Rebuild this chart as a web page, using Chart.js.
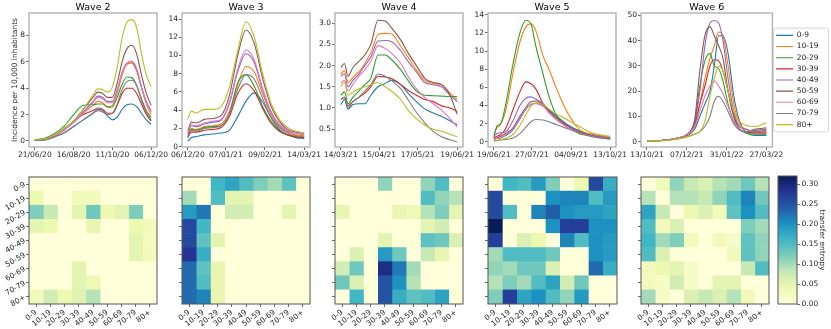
<!DOCTYPE html>
<html>
<head>
<meta charset="utf-8">
<script src="https://cdn.jsdelivr.net/npm/chart.js@4.4.1/dist/chart.umd.min.js"></script>
<style>
  body { margin: 0; background: #fff; }
  #wrap { position: relative; width: 831px; height: 329px; overflow: hidden; }
  canvas { position: absolute; }
</style>
</head>
<body>
<div id="wrap"></div>
<script>
const ageGroups = ['0-9', '10-19', '20-29', '30-39', '40-49', '50-59', '60-69', '70-79', '80+'];
const lineColors = ['#1f77b4', '#ff7f0e', '#2ca02c', '#d62728', '#9467bd', '#8c564b', '#e377c2', '#7f7f7f', '#bcbd22'];

// wave 2, days since 21/06/20, one row per age group
const wave2Days = [0, 14, 28, 42, 56, 70, 84, 91, 98, 105, 112, 119, 126, 133, 140, 147, 154, 161, 168];
const wave2Series = [
  [0.05, 0.08, 0.3, 0.6, 1.1, 1.6, 2.1, 2.4, 2.3, 1.9, 1.6, 1.8, 2.4, 2.75, 2.8, 2.6, 2.1, 1.6, 1.25],
  [0.1, 0.15, 0.4, 0.9, 1.5, 2.1, 2.7, 3.0, 2.9, 2.6, 2.7, 3.6, 5.0, 5.8, 5.9, 5.3, 4.0, 2.8, 2.0],
  [0.1, 0.2, 0.55, 1.1, 2.0, 2.7, 2.75, 2.8, 2.8, 2.55, 2.6, 3.3, 4.3, 4.85, 4.8, 4.2, 3.1, 2.2, 1.6],
  [0.05, 0.1, 0.4, 0.8, 1.5, 2.0, 2.3, 2.5, 2.4, 2.1, 2.1, 2.7, 3.6, 4.0, 4.0, 3.6, 2.8, 2.0, 1.5],
  [0.08, 0.12, 0.4, 0.85, 1.4, 2.2, 3.0, 3.4, 3.3, 3.0, 3.0, 3.9, 5.2, 5.9, 6.0, 5.4, 4.1, 3.0, 2.3],
  [0.08, 0.12, 0.4, 0.9, 1.5, 2.4, 3.3, 3.7, 3.6, 3.3, 3.3, 4.4, 6.0, 7.0, 7.25, 6.6, 5.0, 3.6, 2.7],
  [0.08, 0.12, 0.4, 0.85, 1.4, 2.1, 2.9, 3.3, 3.2, 2.9, 2.9, 3.8, 5.2, 5.9, 6.05, 5.5, 4.1, 2.9, 2.2],
  [0.03, 0.06, 0.3, 0.6, 1.1, 1.6, 2.1, 2.3, 2.2, 2.0, 2.1, 2.8, 3.9, 4.5, 4.6, 4.2, 3.2, 2.3, 1.8],
  [0.1, 0.15, 0.45, 0.95, 1.5, 2.4, 3.5, 3.95, 3.9, 3.7, 4.1, 5.6, 7.8, 9.0, 9.2, 8.6, 6.6, 5.0, 4.1]
];
const wave2XTicks = [0, 56, 112, 168];
const wave2XLabels = ['21/06/20', '16/08/20', '11/10/20', '06/12/20'];
const wave2YTicks = [0, 2, 4, 6, 8];
const wave2YLabels = ['0', '2', '4', '6', '8'];

// wave 3, days since 06/12/20
const wave3Days = [0, 3, 7, 14, 21, 28, 35, 42, 49, 56, 63, 70, 77, 84, 91, 98];
const wave3Series = [
  [0.6, 1.0, 1.1, 1.3, 1.4, 1.5, 1.8, 3.3, 5.0, 5.9, 4.9, 3.2, 1.9, 1.3, 1.0, 0.9],
  [1.2, 2.0, 1.9, 2.2, 2.3, 2.5, 3.9, 6.8, 8.8, 8.2, 5.8, 3.6, 2.2, 1.6, 1.3, 1.2],
  [1.1, 1.9, 1.8, 2.1, 2.2, 2.3, 3.6, 7.0, 7.9, 6.6, 4.4, 2.8, 1.8, 1.3, 1.1, 1.0],
  [1.0, 1.6, 1.6, 1.8, 1.9, 2.1, 3.3, 5.8, 6.9, 6.1, 4.2, 2.6, 1.7, 1.3, 1.1, 1.0],
  [1.4, 2.3, 2.2, 2.5, 2.7, 2.9, 4.7, 8.2, 10.2, 9.2, 6.2, 3.8, 2.4, 1.7, 1.5, 1.3],
  [1.7, 2.7, 2.6, 3.0, 3.1, 3.4, 5.6, 10.0, 12.8, 11.3, 7.5, 4.5, 2.8, 1.9, 1.6, 1.5],
  [1.5, 2.4, 2.3, 2.6, 2.8, 3.0, 4.9, 8.5, 10.6, 9.5, 6.4, 3.9, 2.5, 1.8, 1.5, 1.4],
  [1.0, 1.8, 1.7, 2.0, 2.1, 2.3, 3.6, 6.3, 7.9, 7.4, 5.3, 3.3, 2.1, 1.5, 1.2, 1.1],
  [3.0, 3.9, 3.7, 4.1, 4.1, 4.4, 6.5, 10.5, 13.7, 12.0, 8.0, 4.8, 3.0, 2.1, 1.7, 1.5]
];
const wave3XTicks = [0, 32, 65, 98];
const wave3XLabels = ['06/12/20', '07/01/21', '09/02/21', '14/03/21'];
const wave3YTicks = [0, 2, 4, 6, 8, 10, 12, 14];
const wave3YLabels = ['0', '2', '4', '6', '8', '10', '12', '14'];

// wave 4, days since 14/03/21
const wave4Days = [0, 3, 6, 10, 15, 20, 25, 31, 37, 42, 50, 56, 63, 70, 77, 84, 91, 97];
const wave4Series = [
  [1.08, 1.2, 0.97, 1.08, 1.1, 1.1, 1.3, 1.5, 1.58, 1.65, 1.55, 1.35, 1.15, 0.98, 0.88, 0.8, 0.7, 0.6],
  [1.8, 1.88, 1.6, 1.72, 1.85, 2.05, 2.3, 2.73, 2.76, 2.75, 2.45, 2.2, 1.9, 1.65, 1.58, 1.55, 1.35, 1.2],
  [1.3, 1.38, 1.1, 1.25, 1.4, 1.55, 1.7, 2.25, 2.25, 2.15, 1.9, 1.65, 1.4, 1.3, 1.29, 1.28, 1.27, 1.27],
  [1.2, 1.25, 1.05, 1.15, 1.25, 1.35, 1.5, 1.75, 1.73, 1.7, 1.55, 1.42, 1.3, 1.2, 1.15, 1.05, 1.0, 0.92],
  [1.75, 1.8, 1.5, 1.65, 1.8, 2.0, 2.2, 2.58, 2.59, 2.57, 2.35, 2.1, 1.85, 1.6, 1.55, 1.5, 1.3, 1.15],
  [1.95, 2.05, 1.75, 1.95, 2.1, 2.25, 2.5, 3.07, 3.05, 2.9, 2.6, 2.3, 2.0, 1.7, 1.6, 1.55, 1.3, 0.85],
  [1.58, 1.65, 1.4, 1.55, 1.75, 1.9, 2.1, 2.47, 2.4, 2.3, 2.05, 1.75, 1.45, 1.25, 1.1, 0.95, 0.75, 0.55],
  [1.2, 1.25, 1.0, 1.15, 1.25, 1.4, 1.55, 1.8, 1.75, 1.65, 1.45, 1.2, 0.9, 0.65, 0.45, 0.32, 0.25, 0.2],
  [1.5, 1.6, 1.3, 1.38, 1.45, 1.5, 1.55, 1.6, 1.5, 1.4, 1.2, 0.95, 0.75, 0.6, 0.5, 0.45, 0.38, 0.32]
];
const wave4XTicks = [0, 32, 64, 97];
const wave4XLabels = ['14/03/21', '15/04/21', '17/05/21', '19/06/21'];
const wave4YTicks = [0.5, 1.0, 1.5, 2.0, 2.5, 3.0];
const wave4YLabels = ['0.5', '1.0', '1.5', '2.0', '2.5', '3.0'];

// wave 5, days since 19/06/21
const wave5Days = [0, 3, 7, 12, 19, 26, 32, 37, 42, 49, 55, 62, 72, 85, 100, 116];
const wave5Series = [
  [0.3, 0.35, 0.45, 0.7, 1.3, 2.5, 3.6, 4.1, 4.25, 4.0, 3.5, 2.9, 2.0, 1.2, 0.6, 0.3],
  [0.8, 1.5, 2.0, 3.5, 7.5, 11.0, 12.7, 13.0, 12.2, 9.5, 8.0, 6.0, 3.5, 1.4, 0.8, 0.5],
  [0.5, 1.7, 2.0, 4.2, 8.5, 12.0, 13.4, 13.0, 10.5, 7.5, 5.0, 3.0, 1.8, 0.9, 0.6, 0.35],
  [0.4, 0.6, 0.8, 1.5, 3.5, 5.5, 6.6, 6.4, 5.8, 4.2, 3.3, 2.5, 1.7, 1.0, 0.6, 0.4],
  [0.6, 0.9, 1.0, 1.1, 2.3, 4.0, 4.8, 4.95, 4.7, 4.2, 3.5, 2.7, 1.8, 1.1, 0.7, 0.4],
  [0.3, 0.4, 0.6, 0.9, 1.5, 2.8, 3.8, 4.4, 4.5, 4.1, 3.4, 2.7, 1.9, 1.1, 0.6, 0.35],
  [0.3, 0.35, 0.5, 0.8, 1.4, 2.6, 3.6, 4.1, 4.2, 3.9, 3.2, 2.5, 1.7, 1.0, 0.55, 0.3],
  [0.1, 0.12, 0.2, 0.25, 0.4, 0.9, 1.6, 2.2, 2.45, 2.4, 2.2, 1.9, 1.5, 1.0, 0.5, 0.3],
  [0.1, 0.15, 0.25, 0.4, 0.8, 1.8, 3.0, 3.9, 4.3, 4.1, 3.6, 3.1, 2.5, 1.7, 0.9, 0.6]
];
const wave5XTicks = [0, 38, 77, 116];
const wave5XLabels = ['19/06/21', '27/07/21', '04/09/21', '13/10/21'];
const wave5YTicks = [0, 2, 4, 6, 8, 10, 12, 14];
const wave5YLabels = ['0', '2', '4', '6', '8', '10', '12', '14'];

// wave 6, days since 13/10/21
const wave6Days = [0, 20, 40, 56, 66, 73, 80, 87, 93, 99, 105, 112, 120, 128, 136, 150, 165];
const wave6Series = [
  [0.3, 0.5, 1.2, 2.5, 5, 10, 15, 20, 30, 42, 42, 35, 18, 8, 4, 2.5, 2.5],
  [0.3, 0.5, 1.3, 2.8, 6, 15, 25, 33, 38, 43.5, 42, 30, 15, 7, 5, 4, 4],
  [0.3, 0.5, 1.3, 3, 8, 22, 32, 35, 30, 29, 24, 15, 8, 5, 3.5, 3, 3],
  [0.3, 0.5, 1.3, 3, 7, 15, 22, 30, 32.5, 32, 28, 20, 10, 5, 4, 3.5, 3.5],
  [0.3, 0.5, 1.3, 3, 8, 20, 38, 47, 48, 47, 40, 25, 12, 6, 5, 4, 4.5],
  [0.3, 0.5, 1.3, 3, 9, 28, 42, 45.5, 42, 38, 33, 20, 10, 5, 4, 5, 5.5],
  [0.3, 0.5, 1.3, 3, 6, 12, 18, 22, 24, 22, 19, 14, 8, 5, 4, 4.5, 5],
  [0.3, 0.4, 1.0, 2, 3, 4, 6, 10, 16, 18, 16, 12, 7, 4.5, 4, 4.5, 5],
  [0.3, 0.4, 1.0, 2, 3, 4, 8, 18, 25, 30, 28, 20, 12, 8, 6.5, 6, 7.5]
];
const wave6XTicks = [0, 55, 110, 165];
const wave6XLabels = ['13/10/21', '07/12/21', '31/01/22', '27/03/22'];
const wave6YTicks = [0, 10, 20, 30, 40, 50];
const wave6YLabels = ['0', '10', '20', '30', '40', '50'];

// transfer entropy matrices, rows and columns follow ageGroups
const te2 = [
  [0, 0, 0, 0, 0, 0, 0, 0, 0],
  [0.04, 0, 0, 0.03, 0.03, 0, 0, 0, 0],
  [0.12, 0.08, 0, 0.05, 0.13, 0.04, 0.05, 0.12, 0],
  [0.05, 0.04, 0, 0, 0.045, 0, 0, 0.04, 0.03],
  [0, 0, 0, 0, 0, 0, 0, 0.05, 0.03],
  [0, 0, 0, 0, 0, 0, 0, 0.05, 0.03],
  [0, 0, 0, 0.05, 0, 0, 0, 0, 0],
  [0, 0, 0, 0.05, 0.035, 0, 0, 0, 0],
  [0.03, 0.07, 0.04, 0.055, 0.09, 0, 0, 0, 0]
];
const te3 = [
  [0, 0, 0.16, 0.18, 0.15, 0.12, 0.1, 0.14, 0],
  [0.1, 0, 0.15, 0.05, 0.05, 0, 0, 0, 0],
  [0.19, 0.22, 0, 0.07, 0.07, 0, 0, 0.05, 0],
  [0.26, 0.16, 0, 0, 0, 0, 0, 0, 0],
  [0.26, 0.14, 0.05, 0, 0, 0, 0, 0, 0],
  [0.28, 0.17, 0, 0, 0, 0, 0, 0, 0],
  [0.23, 0.14, 0.045, 0, 0, 0, 0, 0, 0],
  [0.23, 0.15, 0.045, 0, 0, 0, 0, 0, 0],
  [0.23, 0.21, 0.045, 0, 0, 0, 0, 0, 0]
];
const te4 = [
  [0, 0, 0, 0.11, 0, 0, 0.11, 0.15, 0],
  [0, 0, 0, 0, 0, 0, 0.15, 0.11, 0.09],
  [0.045, 0, 0, 0, 0.045, 0.035, 0.09, 0.12, 0.05],
  [0, 0, 0, 0, 0, 0, 0.05, 0.07, 0],
  [0, 0, 0, 0.05, 0, 0, 0.14, 0.13, 0.06],
  [0, 0.06, 0, 0.19, 0.13, 0, 0.08, 0.045, 0],
  [0.07, 0.13, 0, 0.29, 0.22, 0.1, 0, 0, 0],
  [0.13, 0.06, 0, 0.25, 0.2, 0.09, 0, 0, 0],
  [0, 0.16, 0, 0.25, 0.17, 0.14, 0.15, 0.18, 0]
];
const te5 = [
  [0, 0.16, 0.15, 0.19, 0.12, 0, 0.04, 0.26, 0.17],
  [0.26, 0, 0, 0, 0.2, 0.21, 0.21, 0.15, 0.19],
  [0.26, 0.15, 0, 0.21, 0.24, 0.2, 0.19, 0.19, 0.18],
  [0.32, 0, 0, 0, 0.2, 0.27, 0.27, 0.2, 0.2],
  [0.27, 0, 0.06, 0.04, 0, 0.21, 0.15, 0.2, 0.19],
  [0.1, 0.15, 0.15, 0.15, 0.13, 0, 0, 0.2, 0.19],
  [0.11, 0.1, 0.13, 0.13, 0.06, 0, 0, 0.23, 0.17],
  [0.09, 0.12, 0.1, 0.15, 0.18, 0.07, 0.13, 0, 0],
  [0.12, 0.27, 0.18, 0.2, 0.15, 0.11, 0.19, 0, 0]
];
const te6 = [
  [0, 0.03, 0.11, 0.08, 0.06, 0.09, 0.1, 0.13, 0.09],
  [0.09, 0, 0.09, 0.09, 0.08, 0.11, 0.15, 0.21, 0.13],
  [0.18, 0.08, 0, 0.04, 0.06, 0.03, 0.14, 0.2, 0.15],
  [0.15, 0.03, 0.06, 0, 0, 0, 0, 0.12, 0.1],
  [0.16, 0.1, 0.12, 0.03, 0, 0.03, 0.02, 0.14, 0.11],
  [0.15, 0.06, 0, 0, 0, 0, 0.03, 0.14, 0.11],
  [0.03, 0.04, 0.05, 0.02, 0, 0, 0, 0.08, 0.15],
  [0.03, 0.02, 0.07, 0.02, 0, 0.05, 0.05, 0, 0],
  [0.1, 0.02, 0, 0.06, 0.08, 0.06, 0.09, 0.03, 0]
];
const teMax = 0.32;
const cbTicks = [0, 0.05, 0.1, 0.15, 0.2, 0.25, 0.3];

Chart.defaults.font.family = "'DejaVu Sans', sans-serif";
Chart.defaults.font.size = 7.5;
Chart.defaults.color = '#262626';

const ylgnbuStops = ['#ffffd9', '#edf8b1', '#c7e9b4', '#7fcdbb', '#41b6c4', '#1d91c0', '#225ea8', '#253494', '#081d58'];
function hexRgb(h) {
  const n = parseInt(h.slice(1), 16);
  return [n >> 16, (n >> 8) & 255, n & 255];
}
function ylgnbu(t) {
  const s = Math.max(0, Math.min(1, t)) * (ylgnbuStops.length - 1);
  const i = Math.min(ylgnbuStops.length - 2, Math.floor(s));
  const f = s - i;
  const a = hexRgb(ylgnbuStops[i]), b = hexRgb(ylgnbuStops[i + 1]);
  return 'rgb(' + a.map((v, k) => Math.round(v + (b[k] - v) * f)).join(',') + ')';
}

function addCanvas(left, top, w, h) {
  const c = document.createElement('canvas');
  c.width = w; c.height = h;
  c.style.left = left + 'px'; c.style.top = top + 'px';
  c.style.width = w + 'px'; c.style.height = h + 'px';
  document.getElementById('wrap').appendChild(c);
  return c.getContext('2d');
}

// box round the plot area (the matplotlib spines)
const framePlugin = {
  id: 'frame',
  afterDatasetsDraw(chart, args, opts) {
    const {ctx, chartArea: a} = chart;
    ctx.save();
    ctx.strokeStyle = opts.color || '#888';
    ctx.lineWidth = opts.width || 1;
    ctx.strokeRect(a.left, a.top, a.right - a.left, a.bottom - a.top);
    ctx.restore();
  }
};

const LEG_PAD = 3.66;
const LEG_BOX = 17;
// draw a box round the legend
const legendBoxPlugin = {
  id: 'legendBox',
  afterDraw(chart) {
    const lg = chart.legend;
    if (!lg || !lg.options.display) return;
    const ctx = chart.ctx;
    const colH = lg.columnSizes[0].height;
    const y0 = (lg.top + LEG_PAD + lg.bottom - colH) / 2;
    ctx.save();
    ctx.strokeStyle = '#d4d4d4';
    ctx.lineWidth = 1;
    ctx.beginPath();
    ctx.roundRect(lg.left + LEG_PAD - 2.5, y0 - 3.5, 55, colH - LEG_PAD + 7, 2);
    ctx.stroke();
    ctx.restore();
  }
};

function legendWidth() {
  const c = document.createElement('canvas').getContext('2d');
  c.font = "normal 7.5px 'DejaVu Sans', sans-serif";
  const tw = Math.max(...ageGroups.map(g => c.measureText(g).width));
  return LEG_PAD + LEG_BOX + 7.5 / 2 + tw + 10;
}

function fixed(prop, size) {
  return s => {
    s[prop] = size;
    s.paddingLeft = 0; s.paddingRight = 0; s.paddingTop = 0; s.paddingBottom = 0;
  };
}

function lineChart(cfg) {
  const plotTop = 13, plotH = 134, padB = 22;
  const padR = cfg.legend ? 831 - (cfg.x + cfg.w) : 16;
  const legW = cfg.legend ? legendWidth() : 0;
  const ctx = addCanvas(cfg.x - cfg.padL, 0, cfg.padL + cfg.w + padR, plotTop + plotH + padB);
  const span = cfg.days[cfg.days.length - 1];
  return new Chart(ctx, {
    type: 'line',
    data: {
      datasets: cfg.series.map((s, i) => ({
        label: ageGroups[i],
        data: cfg.days.map((d, j) => ({x: d, y: s[j]})),
        borderColor: lineColors[i],
        backgroundColor: lineColors[i],
        borderWidth: 1.1,
        pointRadius: 0,
        cubicInterpolationMode: 'monotone',
        fill: false,
        order: ageGroups.length - i
      }))
    },
    options: {
      responsive: false,
      animation: false,
      events: [],
      layout: {padding: {left: 0, top: 0, bottom: 0, right: padR - legW}},
      plugins: {
        tooltip: {enabled: false},
        title: {
          display: true, text: cfg.title, fullSize: false, color: '#000',
          font: {size: 9.5, weight: 'normal'}, padding: {top: 1.6, bottom: 0}
        },
        legend: {
          display: !!cfg.legend, position: 'right', align: 'center', fullSize: false,
          labels: {
            usePointStyle: true, pointStyle: 'line', pointStyleWidth: LEG_BOX,
            padding: LEG_PAD, font: {size: 7.5}, color: '#262626',
            sort: (a, b) => a.datasetIndex - b.datasetIndex
          }
        },
        frame: {color: '#b3b3b3', width: 1.4}
      },
      scales: {
        x: {
          type: 'linear',
          min: -0.05 * span, max: 1.05 * span,
          afterBuildTicks: s => { s.ticks = cfg.xTicks.map(v => ({value: v})); },
          ticks: {autoSkip: false, maxRotation: 0, padding: 1, color: '#262626',
                  callback: (v, i) => cfg.xLabels[i]},
          grid: {drawOnChartArea: false, tickLength: 3, tickColor: '#444', tickWidth: 0.8},
          border: {display: false},
          afterFit: fixed('height', padB)
        },
        y: {
          min: cfg.yMin, max: cfg.yMax,
          afterBuildTicks: s => { s.ticks = cfg.yTicks.map(v => ({value: v})); },
          ticks: {autoSkip: false, padding: 1, color: '#262626',
                  callback: (v, i) => cfg.yLabels[i]},
          grid: {drawOnChartArea: false, tickLength: 3, tickColor: '#444', tickWidth: 0.8},
          border: {display: false},
          title: cfg.yTitle
            ? {display: true, text: cfg.yTitle, color: '#262626', font: {size: 7.5}, padding: {top: 10.5, bottom: 0}}
            : {display: false},
          afterFit: fixed('width', cfg.padL)
        }
      }
    },
    plugins: [framePlugin, legendBoxPlugin]
  });
}

function heatmap(cfg) {
  const padT = 4, padB = 26, padR = 4, plotTop = 177, plotH = 127;
  const ctx = addCanvas(cfg.x - cfg.padL, plotTop - padT, cfg.padL + cfg.w + padR, padT + plotH + padB);
  return new Chart(ctx, {
    type: 'bar',
    data: {
      labels: ageGroups,
      datasets: ageGroups.map((g, col) => ({
        label: g,
        data: ageGroups.map(() => 1),
        backgroundColor: cfg.matrix.map(row => ylgnbu(row[col] / teMax)),
        borderWidth: 0,
        barPercentage: 1,
        categoryPercentage: 1
      }))
    },
    options: {
      indexAxis: 'y',
      responsive: false,
      animation: false,
      events: [],
      layout: {padding: {top: padT, right: padR, left: 0, bottom: 0}},
      plugins: {
        legend: {display: false},
        tooltip: {enabled: false},
        frame: {color: '#555', width: 1}
      },
      scales: {
        x: {
          type: 'linear', stacked: true, min: 0, max: ageGroups.length,
          afterBuildTicks: s => { s.ticks = ageGroups.map((_, i) => ({value: i + 0.5})); },
          ticks: {autoSkip: false, minRotation: 38, maxRotation: 38, padding: 1, color: '#262626',
                  callback: (v, i) => ageGroups[i]},
          grid: {drawOnChartArea: false, tickLength: 3, tickColor: '#444', tickWidth: 0.8},
          border: {display: false},
          afterFit: fixed('height', padB)
        },
        y: {
          stacked: true,
          ticks: {display: cfg.showY, autoSkip: false, minRotation: 30, maxRotation: 30, padding: 1, color: '#262626'},
          grid: {offset: false, drawOnChartArea: false, tickLength: 3, tickColor: '#444', tickWidth: 0.8},
          border: {display: false},
          afterFit: fixed('width', cfg.padL)
        }
      }
    },
    plugins: [framePlugin]
  });
}

function colorbar() {
  const left = 778, top = 176, w = 19, h = 128, axisW = 34;
  const ctx = addCanvas(left - 2, top - 4, 2 + w + axisW, h + 8);
  return new Chart(ctx, {
    type: 'bar',
    data: {
      labels: [''],
      datasets: [{
        data: [teMax],
        backgroundColor: c => {
          const area = c.chart.chartArea;
          if (!area) return ylgnbuStops[0];
          const g = c.chart.ctx.createLinearGradient(0, area.bottom, 0, area.top);
          ylgnbuStops.forEach((col, i) => g.addColorStop(i / (ylgnbuStops.length - 1), col));
          return g;
        },
        borderWidth: 0,
        barPercentage: 1,
        categoryPercentage: 1
      }]
    },
    options: {
      responsive: false,
      animation: false,
      events: [],
      layout: {padding: {left: 2, top: 4, bottom: 4, right: 0}},
      plugins: {legend: {display: false}, tooltip: {enabled: false}, frame: {color: '#555', width: 1}},
      scales: {
        x: {display: false},
        y: {
          position: 'right', min: 0, max: teMax,
          afterBuildTicks: s => { s.ticks = cbTicks.map(v => ({value: v})); },
          ticks: {padding: 1.5, color: '#262626', callback: v => v.toFixed(2)},
          grid: {drawOnChartArea: false, tickLength: 3, tickColor: '#444', tickWidth: 0.8},
          border: {display: false},
          title: {display: true, text: 'transfer entropy', color: '#262626', font: {size: 7.5}, padding: {top: 4.8}},
          afterFit: fixed('width', axisW)
        }
      }
    },
    plugins: [framePlugin]
  });
}

lineChart({title: 'Wave 2', days: wave2Days, series: wave2Series, xTicks: wave2XTicks, xLabels: wave2XLabels,
  yTicks: wave2YTicks, yLabels: wave2YLabels, yMin: -0.46, yMax: 9.7, x: 29, w: 128, padL: 29,
  yTitle: 'Incidence per 10,000 inhabitants'});
lineChart({title: 'Wave 3', days: wave3Days, series: wave3Series, xTicks: wave3XTicks, xLabels: wave3XLabels,
  yTicks: wave3YTicks, yLabels: wave3YLabels, yMin: -0.03, yMax: 14.66, x: 182, w: 128, padL: 24});
lineChart({title: 'Wave 4', days: wave4Days, series: wave4Series, xTicks: wave4XTicks, xLabels: wave4XLabels,
  yTicks: wave4YTicks, yLabels: wave4YLabels, yMin: 0.08, yMax: 3.24, x: 335, w: 128, padL: 24});
lineChart({title: 'Wave 5', days: wave5Days, series: wave5Series, xTicks: wave5XTicks, xLabels: wave5XLabels,
  yTicks: wave5YTicks, yLabels: wave5YLabels, yMin: -0.58, yMax: 14.2, x: 488, w: 128, padL: 24});
lineChart({title: 'Wave 6', days: wave6Days, series: wave6Series, xTicks: wave6XTicks, xLabels: wave6XLabels,
  yTicks: wave6YTicks, yLabels: wave6YLabels, yMin: -2.1, yMax: 51, x: 641, w: 127, padL: 24,
  legend: true});

heatmap({matrix: te2, x: 29, w: 128, padL: 29, showY: true});
heatmap({matrix: te3, x: 182, w: 128, padL: 12, showY: false});
heatmap({matrix: te4, x: 335, w: 128, padL: 12, showY: false});
heatmap({matrix: te5, x: 488, w: 129, padL: 12, showY: false});
heatmap({matrix: te6, x: 641, w: 128, padL: 12, showY: false});
colorbar();
</script>
</body>
</html>
